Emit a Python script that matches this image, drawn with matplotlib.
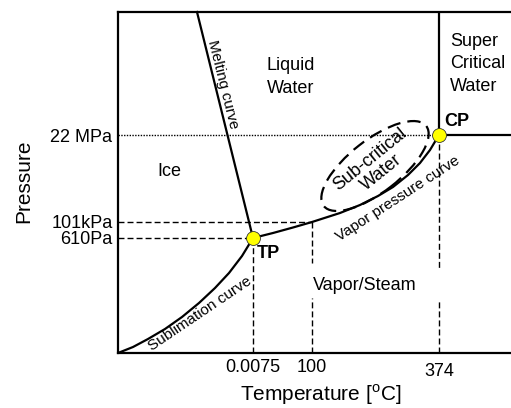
import matplotlib
matplotlib.use("agg")
import matplotlib.pyplot as plt
from matplotlib.patches import Ellipse

plt.rcParams['font.family'] = ['Liberation Sans', 'DejaVu Sans']
plt.rcParams['mathtext.fontset'] = 'custom'
plt.rcParams['mathtext.rm'] = 'Liberation Sans'

# schematic phase diagram of water (arbitrary units, not to scale)
x_max, y_max = 393, 341

tp = (135, 115)           # triple point
cp = (321, 218)           # critical point
x_100 = 194               # 100 degC
y_101kpa = 131

melt_x = [79, 135]
melt_y = [341, 115]

sub_x = [0, 15, 30, 47, 64, 81, 97, 111, 124, 135]
sub_y = [0, 6, 14, 24, 36, 50, 65, 80, 97, 115]

vap_x = [135, 155, 175, 194, 222, 242, 260, 275, 290, 302, 312, 321]
vap_y = [115, 120, 125.5, 131, 140, 148, 157, 166, 178, 190, 203, 218]

xtick_pos = [135, 194, 321]
xtick_lbl = ['0.0075', '100', '374']
ytick_pos = [218, 131, 115]
ytick_lbl = ['22 MPa', '101kPa', '610Pa']

fig = plt.figure(figsize=(5.11, 4.08), dpi=100)
ax = fig.add_axes([118 / 511, 55 / 408, 393 / 511, 341 / 408])
ax.set_xlim(0, x_max)
ax.set_ylim(0, y_max)

for side in ['left', 'bottom', 'top']:
    ax.spines[side].set_linewidth(1.6)
ax.spines['right'].set_visible(False)

dash = (0, (4.3, 2.2))
# reference lines
ax.plot([0, cp[0]], [cp[1], cp[1]], color='black', lw=1.0, ls=(0, (1, 1)))
ax.plot([0, x_100], [y_101kpa, y_101kpa], color='black', lw=1.0, ls=dash)
ax.plot([0, tp[0]], [tp[1], tp[1]], color='black', lw=1.0, ls=dash)
ax.plot([tp[0], tp[0]], [0, tp[1]], color='black', lw=1.0, ls=dash)
ax.plot([x_100, x_100], [y_101kpa, 90], color='black', lw=1.0, ls=dash)
ax.plot([x_100, x_100], [0, 55], color='black', lw=1.0, ls=dash)
ax.plot([cp[0], cp[0]], [cp[1], 83], color='black', lw=1.0, ls=dash)
ax.plot([cp[0], cp[0]], [0, 53], color='black', lw=1.0, ls=dash)

# phase boundaries
ax.plot(melt_x, melt_y, color='black', lw=1.6, clip_on=False)
ax.plot(sub_x, sub_y, color='black', lw=1.6)
ax.plot(vap_x, vap_y, color='black', lw=1.6)
ax.plot([cp[0], cp[0]], [cp[1], y_max], color='black', lw=1.6)
ax.plot([cp[0], x_max], [cp[1], cp[1]], color='black', lw=1.6, clip_on=False)

ax.add_patch(Ellipse((257, 187), 130, 52, angle=38, fill=False,
                     ec='black', lw=1.6, ls=(0, (6, 3.2))))

ax.plot([tp[0], cp[0]], [tp[1], cp[1]], 'o', color='yellow', mec='#333333',
        mew=0.6, ms=10, zorder=5)

ax.set_xticks(xtick_pos, xtick_lbl, fontsize=13)
ax.set_yticks(ytick_pos, ytick_lbl, fontsize=13)
ax.tick_params(length=0, pad=4)
ax.xaxis.get_major_ticks()[2].set_pad(7)

ax.text(203, -42, r'Temperature [$^{\mathrm{o}}$C]', fontsize=15, ha='center', va='center')
ax.text(-94, 172, 'Pressure', fontsize=15, ha='center', va='center', rotation=90)

# region labels
ax.text(51, 181, 'Ice', fontsize=13, ha='center', va='center')
ax.text(149, 276, 'Liquid\nWater', fontsize=13, ha='left', va='center', linespacing=1.4)
ax.text(332, 289, 'Super\nCritical\nWater', fontsize=13, ha='left', va='center', linespacing=1.4)
ax.text(195, 67, 'Vapor/Steam', fontsize=13, ha='left', va='center')
ax.text(326, 232, 'CP', fontsize=13, fontweight='bold', ha='left', va='center')
ax.text(139, 100, 'TP', fontsize=13, fontweight='bold', ha='left', va='center')
ax.text(258, 187, 'Sub-critical\nWater', fontsize=13, ha='center', va='center',
        rotation=39, rotation_mode='anchor', linespacing=1.05)

# curve labels
ax.text(105, 269, 'Melting curve', fontsize=11, ha='center', va='center',
        rotation=-76, rotation_mode='anchor')
ax.text(82, 39, 'Sublimation curve', fontsize=11, ha='center', va='center',
        rotation=34, rotation_mode='anchor')
ax.text(280, 154, 'Vapor pressure curve', fontsize=11, ha='center', va='center',
        rotation=33, rotation_mode='anchor')

fig.savefig('out.png', dpi=100)
